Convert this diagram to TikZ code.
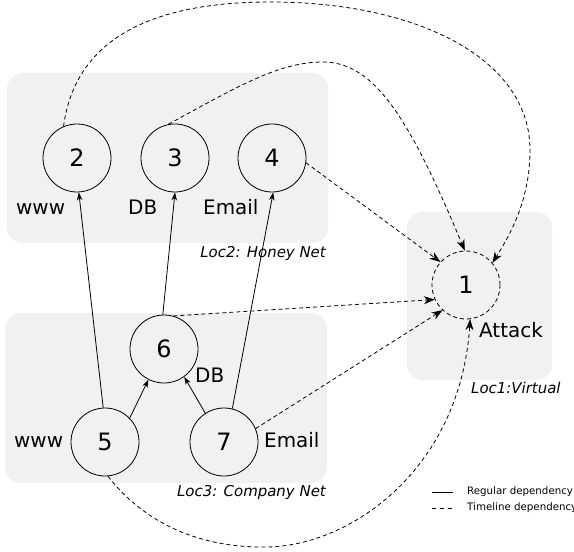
\documentclass[tikz,border=0pt]{standalone}
\usepackage{fontspec}
\setmainfont{DejaVu Sans}[ItalicFont={DejaVu Sans Oblique}]
\usetikzlibrary{arrows.meta}
\definecolor{boxgray}{RGB}{241,241,241}
\begin{document}
\begin{tikzpicture}[x=1bp,y=-1bp,
  circ/.style={circle, draw, line width=0.8bp, minimum size=68bp, inner sep=0pt, font=\fontsize{24}{24}\selectfont},
  lbl/.style={font=\fontsize{20}{20}\selectfont, inner sep=0pt},
  loc/.style={font=\fontsize{15}{15}\selectfont\itshape, inner sep=0pt},
  legend/.style={font=\fontsize{10.3}{10.3}\selectfont, inner sep=0pt},
  region/.style={fill=boxgray, rounded corners=16bp},
  reg/.style={line width=0.8bp, -{Stealth[length=8bp,width=5.5bp,inset=2.5bp]}},
  tl/.style={line width=0.8bp, dash pattern=on 4bp off 3bp, -{Stealth[length=11bp,width=8bp,inset=3.5bp]}},
  tlline/.style={line width=0.8bp, dash pattern=on 4bp off 4bp}]
\useasboundingbox (0,0) rectangle (574,552);
% regions
\fill[region] (7,73) rectangle (328,243);
\fill[region] (5,313) rectangle (327,483);
\fill[region] (407,212) rectangle (552,380);
% nodes
\node[circ] (n2) at (77,158) {2};
\node[circ] (n3) at (175,158) {3};
\node[circ] (n4) at (272,158) {4};
\node[circ, dash pattern=on 4bp off 3bp] (n1) at (466,285) {1};
\node[circ] (n6) at (164,349) {6};
\node[circ] (n5) at (105,442) {5};
\node[circ] (n7) at (224,442) {7};
% labels
\node[lbl, anchor=base west] (l2) at (16,215) {www};
\node[lbl, anchor=base west] (l3) at (128,215) {DB};
\node[lbl, anchor=base west] (l4) at (203,215) {Email};
\node[loc, anchor=base east] (loc2) at (326,257) {Loc2: Honey Net};
\node[lbl, anchor=base west] (l1) at (479,337) {Attack};
\node[loc, anchor=base west] (loc1) at (471,393) {Loc1:Virtual};
\node[lbl, anchor=base west] (l6) at (195,382) {DB};
\node[lbl, anchor=base west] (l5) at (14,447) {www};
\node[lbl, anchor=base west] (l7) at (264,447) {Email};
\node[loc, anchor=base east] (loc3) at (326,496) {Loc3: Company Net};
% regular dependencies
\draw[reg] (n5.93) -- (n2.273);
\draw[reg] (n6.92) -- (n3.270);
\draw[reg] (n7.76) -- (n4.272);
\draw[reg] (n5.44) -- (n6.243);
\draw[reg] (n7.123) -- (n6.306);
% timeline dependencies
\draw[tl] (n2.113) .. controls (75,40) and (150,2) .. (270,2)
  .. controls (420,2) and (530,60) .. (530,150)
  .. controls (530,200) and (510,235) .. (n1.40);
\draw[tl] (n3.101) .. controls (240,85) and (280,62) .. (323,62)
  .. controls (375,62) and (410,120) .. (n1.92);
\draw[tl] (n4.-8) -- (n1.138);
\draw[tl] (n6.74) -- (n1.205);
\draw[tl] (n7.23) -- (n1.227);
\draw[tl] (n5.275) .. controls (150,530) and (210,548) .. (267,547)
  .. controls (350,546) and (460,470) .. (n1.277);
% legend
\coordinate (ra) at (432,492);
\coordinate (rb) at (453,492);
\draw[line width=0.8bp] (ra) -- (rb);
\node[legend, anchor=west] (rl) at (467,492) {Regular dependency};
\coordinate (ta) at (432,508);
\coordinate (tb) at (452,508);
\draw[tlline] (ta) -- (tb);
\node[legend, anchor=west] (tlab) at (467,508) {Timeline dependency};
\end{tikzpicture}
\end{document}
